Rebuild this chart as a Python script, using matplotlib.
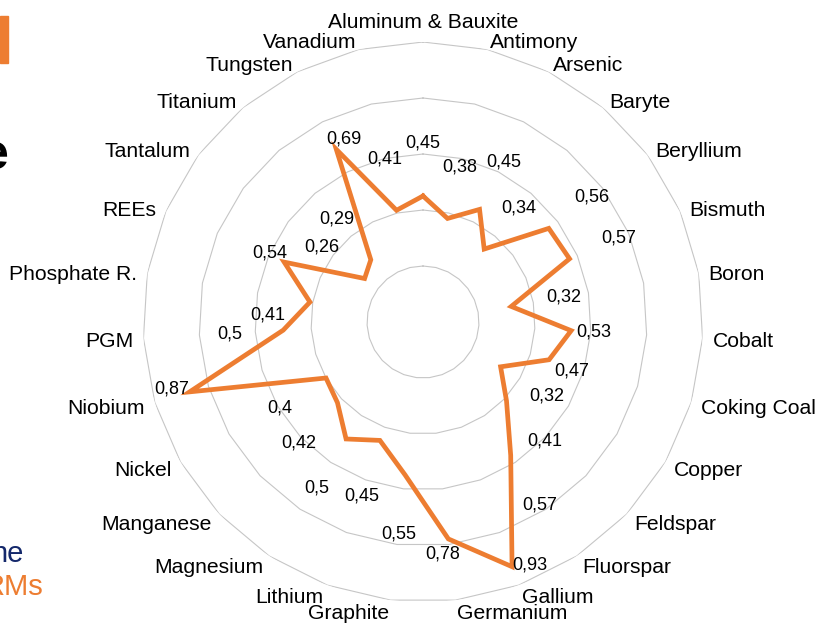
import numpy as np
import matplotlib
matplotlib.use("Agg")
import matplotlib.pyplot as plt
from matplotlib.patches import Rectangle

plt.rcParams['font.family'] = ['Liberation Sans', 'DejaVu Sans']

materials = ["Aluminum & Bauxite", "Antimony", "Arsenic", "Baryte", "Beryllium",
             "Bismuth", "Boron", "Cobalt", "Coking Coal", "Copper", "Feldspar",
             "Fluorspar", "Gallium", "Germanium", "Graphite", "Lithium",
             "Magnesium", "Manganese", "Nickel", "Niobium", "PGM", "Phosphate R.",
             "REEs", "Tantalum", "Titanium", "Tungsten", "Vanadium"]
scores = [0.45, 0.38, 0.45, 0.34, 0.56, 0.57, 0.32, 0.53, 0.47, 0.32, 0.41,
          0.57, 0.93, 0.78, 0.55, 0.45, 0.5, 0.42, 0.4, 0.87, 0.5, 0.41,
          0.54, 0.26, 0.29, 0.69, 0.41]
rings = [0.2, 0.4, 0.6, 0.8, 1.0]

ORANGE = "#ED7D31"

# labels that sit next to their point instead of further out (pixel offsets)
label_nudge = {
    "Cobalt": (23, -1), "Coking Coal": (23, -11), "Gallium": (18, 2),
    "Germanium": (-6, -15), "Niobium": (-18, 3), "REEs": (-14, 9),
    "Tungsten": (8, 10), "Phosphate R.": (-42, -13),
}

n = len(materials)
theta = np.arange(n) * 2 * np.pi / n
theta_c = np.append(theta, theta[0])

fig = plt.figure(figsize=(8.32, 6.34), dpi=100)
ax = fig.add_axes([143 / 832, 32 / 634, 560 / 832, 560 / 634], projection="polar")
ax.set_theta_zero_location("N")
ax.set_theta_direction(-1)
ax.set_ylim(0, 1.0)
ax.grid(False)
ax.spines["polar"].set_visible(False)
ax.set_xticks([])
ax.set_yticks([])
ax.patch.set_alpha(0)

for r in rings:
    ax.plot(theta_c, [r] * (n + 1), color="#c6c6c6", lw=0.8, zorder=1)

vals_c = np.append(scores, scores[0])
ax.plot(theta_c, vals_c, color=ORANGE, lw=3.4, solid_joinstyle="miter", zorder=3)

for name, t, v in zip(materials, theta, scores):
    txt = f"{v:g}".replace(".", ",")
    if name in label_nudge:
        ax.annotate(txt, (t, v), xytext=label_nudge[name], textcoords="offset pixels",
                    ha="center", va="center", fontsize=13, zorder=4)
    else:
        drop = -6 * max(0.0, -np.cos(t))
        ax.annotate(txt, (t, v + 0.19), xytext=(0, drop), textcoords="offset pixels",
                    ha="center", va="center", fontsize=13, zorder=4)

    s = np.sin(t)
    if abs(s) < 1e-6:
        ax.annotate(name, (t, 1.03), xytext=(0, 2), textcoords="offset pixels",
                    ha="center", va="bottom", fontsize=15.2, annotation_clip=False)
    else:
        ax.annotate(name, (t, 1.036), xytext=(0, -3), textcoords="offset pixels",
                    ha="left" if s > 0 else "right", va="center", fontsize=15.2,
                    annotation_clip=False)

# slide fragments cut off at the left edge
fig.patches.append(Rectangle((0, 1 - 63 / 634), 8 / 832, 47 / 634,
                             transform=fig.transFigure, color=ORANGE))
fig.text(9 / 832, 1 - 156 / 634, "e", ha="right", va="center",
         fontsize=36, fontweight="bold", color="black")
fig.text(23 / 832, 1 - 554 / 634, "ne", ha="right", va="center",
         fontsize=21, color="#14286b")
fig.text(43 / 832, 1 - 587 / 634, "RMs", ha="right", va="center",
         fontsize=21, color=ORANGE)

fig.savefig("out.png", dpi=100, facecolor="white")
